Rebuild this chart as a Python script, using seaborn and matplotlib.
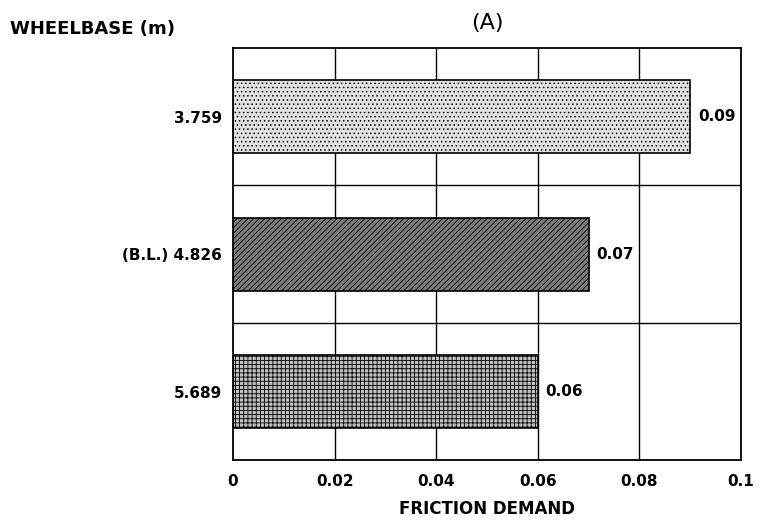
import matplotlib
matplotlib.use("Agg")
import matplotlib.pyplot as plt
import seaborn as sns
import pandas as pd

# Data
wheelbase = ["3.759", "(B.L.) 4.826", "5.689"]
friction = [0.09, 0.07, 0.06]
fills = ["#e2e2e2", "#7e7e7e", "#c0c0c0"]
hatches = ["....", "//////", "++++"]

sns.set_style("white")
plt.rcParams["font.family"] = ["DejaVu Sans"]
plt.rcParams["hatch.linewidth"] = 0.6
plt.rcParams["text.color"] = "black"
plt.rcParams["xtick.color"] = "black"
plt.rcParams["ytick.color"] = "black"
plt.rcParams["axes.labelcolor"] = "black"

df = pd.DataFrame({"wheelbase": wheelbase, "friction": friction})

fig = plt.figure(figsize=(7.64, 5.23), dpi=100)
ax = fig.add_axes([0.305, 0.120, 0.665, 0.788])

sns.barplot(data=df, x="friction", y="wheelbase", hue="wheelbase", palette=fills,
            legend=False, width=0.53, edgecolor="black", linewidth=1.2, ax=ax)

for patch, h in zip(ax.patches, hatches):
    patch.set_hatch(h)

# value labels next to each bar
for i, v in enumerate(friction):
    ax.text(v + 0.0015, i, f"{v:g}", va="center", ha="left", fontsize=11,
            fontweight="bold")

# grid lines
for xv in [0.02, 0.04, 0.06, 0.08]:
    ax.axvline(xv, color="black", lw=1.0, zorder=0)
for yv in [0.5, 1.5]:
    ax.axhline(yv, color="black", lw=1.0, zorder=0)

ax.set_xlim(0, 0.1)
ax.set_ylim(2.5, -0.5)
ax.set_xticks([0, 0.02, 0.04, 0.06, 0.08, 0.1])
ax.set_xticklabels(["0", "0.02", "0.04", "0.06", "0.08", "0.1"])
ax.tick_params(axis="x", length=0, pad=10, labelsize=11)
ax.tick_params(axis="y", direction="in", length=4, width=1, left=True, pad=8,
               labelsize=11)
for lbl in ax.get_xticklabels() + ax.get_yticklabels():
    lbl.set_fontweight("bold")

for s in ax.spines.values():
    s.set_color("black")
    s.set_linewidth(1.3)

ax.set_ylabel("")
ax.set_xlabel("FRICTION DEMAND", fontsize=12, fontweight="bold", labelpad=8)
ax.set_title("(A)", fontsize=16, pad=14, fontweight="medium")
fig.text(0.013, 0.945, "WHEELBASE (m)", fontsize=13, fontweight="bold",
         ha="left", va="center")

fig.savefig("out.png", dpi=100)
